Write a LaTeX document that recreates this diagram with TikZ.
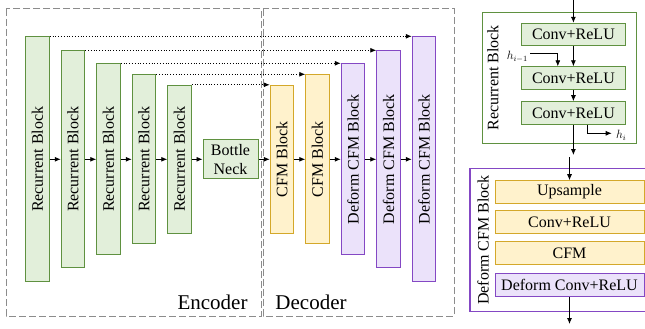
\documentclass[tikz,border=0pt]{standalone}
\usepackage{fontspec}
\setmainfont{Liberation Serif}
\usepackage{graphicx}
\usetikzlibrary{arrows.meta}
\definecolor{grfill}{HTML}{E2EFDA}
\definecolor{grline}{HTML}{5F9140}
\definecolor{yefill}{HTML}{FFF2CC}
\definecolor{yeline}{HTML}{D4A82A}
\definecolor{pufill}{HTML}{EBE2FA}
\definecolor{puline}{HTML}{8448C4}
\definecolor{boxgray}{HTML}{8C8C8C}
\begin{document}
\begin{tikzpicture}[x=1pt, y=-1pt,
  font=\fontsize{16}{19}\selectfont,
  greenblk/.style={draw=grline, fill=grfill, line width=1pt, inner sep=0pt},
  yellowblk/.style={draw=yeline, fill=yefill, line width=1pt, inner sep=0pt},
  purpleblk/.style={draw=puline, fill=pufill, line width=1pt, inner sep=0pt},
  arr/.style={-{Latex[length=6pt,width=5pt]}, line width=0.8pt},
  skipline/.style={dotted, line width=0.8pt, -{Latex[length=6pt,width=5pt]}},
  dashbox/.style={draw=boxgray, dash pattern=on 7pt off 3pt, line width=1pt},
  hlabel/.style={font=\fontsize{12}{14}\selectfont, inner sep=1pt}]
\useasboundingbox (0,0) rectangle (645,329);
% encoder / decoder frames
\draw[dashbox] (6,9) rectangle (261,316);
\draw[dashbox] (263,9) rectangle (454,316);
\node[font=\fontsize{21}{24}\selectfont] (enc) at (212.5,302){Encoder};
\node[font=\fontsize{21}{24}\selectfont] (dec) at (311,302){Decoder};
% encoder
\node[greenblk, minimum width=23.5pt, minimum height=245pt] (rb1) at (37.5,159.3){\rotatebox{90}{Recurrent Block}};
\node[greenblk, minimum width=23.5pt, minimum height=217pt] (rb2) at (73,159.3){\rotatebox{90}{Recurrent Block}};
\node[greenblk, minimum width=23.5pt, minimum height=191pt] (rb3) at (108.5,159.3){\rotatebox{90}{Recurrent Block}};
\node[greenblk, minimum width=23.5pt, minimum height=169pt] (rb4) at (144,159.3){\rotatebox{90}{Recurrent Block}};
\node[greenblk, minimum width=23.5pt, minimum height=148pt] (rb5) at (179.5,159.3){\rotatebox{90}{Recurrent Block}};
\node[greenblk, minimum width=55pt, minimum height=39pt, align=center] (bn) at (230.5,159.3){Bottle\\Neck};
% decoder
\node[yellowblk, minimum width=23.5pt, minimum height=148pt] (cfm1) at (282,159.3){\rotatebox{90}{CFM Block}};
\node[yellowblk, minimum width=23.5pt, minimum height=169pt] (cfm2) at (317.5,159.3){\rotatebox{90}{CFM Block}};
\node[purpleblk, minimum width=23.5pt, minimum height=191pt] (dcfm1) at (353,159.3){\rotatebox{90}{Deform CFM Block}};
\node[purpleblk, minimum width=23.5pt, minimum height=217pt] (dcfm2) at (388.5,159.3){\rotatebox{90}{Deform CFM Block}};
\node[purpleblk, minimum width=23.5pt, minimum height=245pt] (dcfm3) at (424,159.3){\rotatebox{90}{Deform CFM Block}};
\draw[arr](rb1) -- (rb2);
\draw[arr](rb2) -- (rb3);
\draw[arr](rb3) -- (rb4);
\draw[arr](rb4) -- (rb5);
\draw[arr](rb5) -- (bn);
\draw[arr](bn) -- (cfm1);
\draw[arr](cfm1) -- (cfm2);
\draw[arr](cfm2) -- (dcfm1);
\draw[arr](dcfm1) -- (dcfm2);
\draw[arr](dcfm2) -- (dcfm3);
% skip connections
\draw[skipline](rb1.north east) -- (dcfm3.north west);
\draw[skipline](rb2.north east) -- (dcfm2.north west);
\draw[skipline](rb3.north east) -- (dcfm1.north west);
\draw[skipline](rb4.north east) -- (cfm2.north west);
\draw[skipline](rb5.north east) -- (cfm1.north west);
% recurrent block detail
\node[draw=grline, line width=1.2pt, minimum width=154pt, minimum height=131pt] (recbox) at (559.7,77.8){};
\node (reclabel) at (493,77.8){\rotatebox{90}{Recurrent Block}};
\node[greenblk, minimum width=104.7pt, minimum height=22.4pt] (conv1) at (573.4,34.5){Conv+ReLU};
\node[greenblk, minimum width=104.7pt, minimum height=22.4pt] (conv2) at (573.4,78){Conv+ReLU};
\node[greenblk, minimum width=104.7pt, minimum height=22.4pt] (conv3) at (573.4,112.9){Conv+ReLU};
\coordinate (rin) at (573.4,0);
\coordinate (rout) at (573.4,155);
\draw[arr](rin) -- (conv1.north);
\draw[arr](conv1) -- (conv2);
\draw[arr](conv2) -- (conv3);
\draw[arr](conv3) -- (rout);
\coordinate (hin) at (530,53.3);
\node[hlabel, anchor=east] (hprev) at (529,57){$h_{i-1}$};
\draw[arr](hin) -| ([xshift=-15.6pt]conv2.north);
\coordinate (hout) at (611.7,133.3);
\node[hlabel, anchor=west] (hcur) at (615,135){$h_i$};
\draw[arr]([xshift=13.7pt]conv3.south) |- (hout);
% deform CFM block detail
\node[draw=puline, line width=1.2pt, minimum width=185pt, minimum height=143.4pt] (dbox) at (562.5,240){};
\node (dlabel) at (483,240){\rotatebox{90}{Deform CFM Block}};
\node[yellowblk, minimum width=149pt, minimum height=22.6pt] (ups) at (569.5,192){Upsample};
\node[yellowblk, minimum width=149pt, minimum height=23pt] (dconv) at (569.5,222.4){Conv+ReLU};
\node[yellowblk, minimum width=149pt, minimum height=22.6pt] (cfm) at (569.5,253){CFM};
\node[purpleblk, minimum width=149pt, minimum height=23.4pt] (defconv) at (569.5,285){Deform Conv+ReLU};
\coordinate (din) at (569.5,157);
\coordinate (dout) at (569.5,324);
\draw[arr](din) -- (ups.north);
\draw[arr](defconv.south) -- (dout);
\end{tikzpicture}
\end{document}
